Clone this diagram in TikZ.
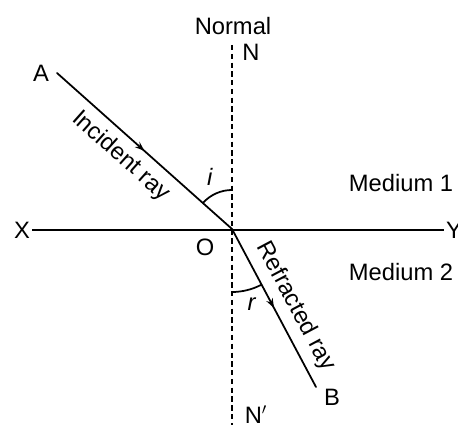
\documentclass[tikz,border=0pt]{standalone}
\usepackage{fontspec}
\setmainfont{Liberation Sans}
\usetikzlibrary{arrows.meta,decorations.markings,calc}

\tikzset{
  ray/.style={line width=1pt, line cap=round, postaction={decorate},
    decoration={markings, mark=at position 0.5 with {\arrow{Stealth[length=1.9mm,width=1.4mm]}}}},
  normalline/.style={line width=1pt, dash pattern=on 3pt off 2pt},
  lbl/.style={font=\fontsize{13.5}{16}\selectfont, inner sep=1pt}
}

\begin{document}
\begin{tikzpicture}[>=Stealth, line join=round]
    \useasboundingbox (0,0) rectangle (9.16,8.5);

    % Points
    \coordinate (O) at (4.64, 3.92);
    \coordinate (Ne) at (4.64, 7.6);
    \coordinate (Nb) at (4.64, 0);
    \coordinate (Ae) at (1.14, 7.04);
    \coordinate (Be) at (6.32, 0.76);

    % Surface XY
    \node[lbl] (X) at (0.44, 3.90) {X};
    \node[lbl] (Y) at (9.08, 3.90) {Y};
    \draw[line width=1pt] (X) -- (Y);

    % Normal NN'
    \draw[normalline] (Ne) -- (Nb);
    \node[lbl] (normal) at (4.66, 7.98) {Normal};
    \node[lbl] (N) at (5.02, 7.46) {N};
    \node[lbl] (N') at (5.12, 0.2) {N$'$};

    % Incident ray
    \draw[ray] (Ae) -- node[lbl, sloped, below=0.12cm, pos=0.44] {Incident ray} (O);
    \node[lbl] (A) at (0.82, 7.04) {A};

    % Refracted ray
    \draw[ray] (O) -- node[lbl, sloped, above=0.12cm, pos=0.55] {Refracted ray} (Be);
    \node[lbl] (B) at (6.64, 0.56) {B};

    % Angles
    \draw[line width=1pt] ($(O)+(90:0.78)$) arc[start angle=90, end angle=138.7, radius=0.78];
    \node[lbl] (i) at (4.2, 4.96) {\textit{i}};
    \draw[line width=1pt] ($(O)+(-90:1.26)$) arc[start angle=-90, end angle=-62.3, radius=1.26];
    \node[lbl] (r) at (5.04, 2.42) {\textit{r}};

    % Media
    \node[lbl] (m1) at (8.02, 4.84) {Medium 1};
    \node[lbl] (m2) at (8.02, 3.06) {Medium 2};
    \node[lbl] (Olbl) at (4.1, 3.56) {O};
\end{tikzpicture}
\end{document}
